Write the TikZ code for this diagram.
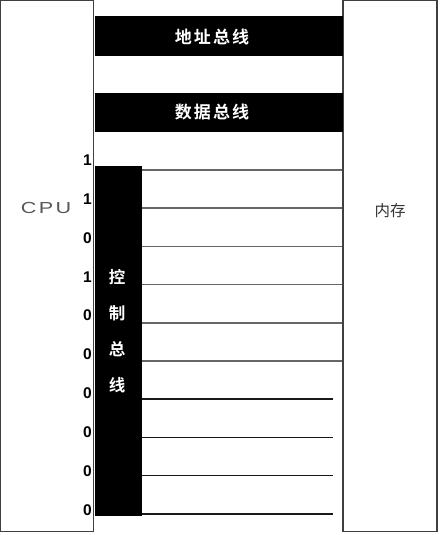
\documentclass[tikz,border=0pt]{standalone}
\usepackage{fontspec}
\newfontfamily\cjk[BoldFont={Noto Sans CJK SC Bold}]{Noto Sans CJK SC}
\newfontfamily\cjkspaced[LetterSpace=12,BoldFont={Noto Sans CJK SC Bold}]{Noto Sans CJK SC}
\newfontfamily\cpufont[FakeStretch=1.35,LetterSpace=15]{Liberation Sans}
\newfontfamily\digitfont{Liberation Sans}

\tikzset{
  unitbox/.style={draw=black!75, line width=1.5pt, fill=white, inner sep=0pt},
  busbar/.style={fill=black, inner sep=0pt},
  buslabel/.style={text=white, inner sep=0pt, font=\cjkspaced\bfseries\fontsize{17}{17}\selectfont},
  bitlabel/.style={anchor=east, inner sep=0pt, font=\digitfont\bfseries\fontsize{15.5}{15.5}\selectfont},
  wire/.style={line width=1.6pt, draw=black!60},
  darkwire/.style={line width=1.6pt, draw=black!90, shorten >=9pt}
}

\begin{document}
\begin{tikzpicture}[x=1pt,y=-1pt]
    \useasboundingbox (0,0) rectangle (439,535);

    % CPU and memory
    \node[unitbox, minimum width=93pt, minimum height=531pt] (cpu) at (47,266) {};
    \node[unitbox, minimum width=94pt, minimum height=531pt] (mem) at (390,266) {};
    \node[text=black!65, font=\cpufont\fontsize{16}{16}\selectfont] (cpulabel) at (46,208) {CPU};
    \node[text=black!80, font=\cjk\fontsize{15.5}{15.5}\selectfont] (memlabel) at (390,211) {内存};

    % Address and data bus
    \node[busbar, minimum width=248pt, minimum height=40pt] (addr) at (219,36) {};
    \node[buslabel] (addrlabel) at (212,37) {地址总线};
    \node[busbar, minimum width=248pt, minimum height=39pt] (data) at (219,112.5) {};
    \node[buslabel] (datalabel) at (212,112) {数据总线};

    % Control bus
    \node[busbar, minimum width=47pt, minimum height=350pt] (ctrl) at (118.5,341) {};
    \node[text=white, align=center, inner sep=0pt,
          font=\cjk\bfseries\fontsize{16.5}{36}\selectfont] (ctrllabel) at (117,331) {控\\制\\总\\线};

    % Control lines
    \foreach \i in {0,...,9}
        \coordinate (w\i) at (142,{170+38.2*\i});
    \foreach \i in {0,...,5}
        \draw[wire] (w\i) -- (w\i -| mem.west);
    \foreach \i in {6,...,9}
        \draw[darkwire] (w\i) -- (w\i -| mem.west);

    % Signal bits
    \foreach \bit [count=\i from 0] in {1,1,0,1,0,0,0,0,0,0}
        \node[bitlabel] (bit\i) at (92,{160+38.9*\i}) {\bit};
\end{tikzpicture}
\end{document}
